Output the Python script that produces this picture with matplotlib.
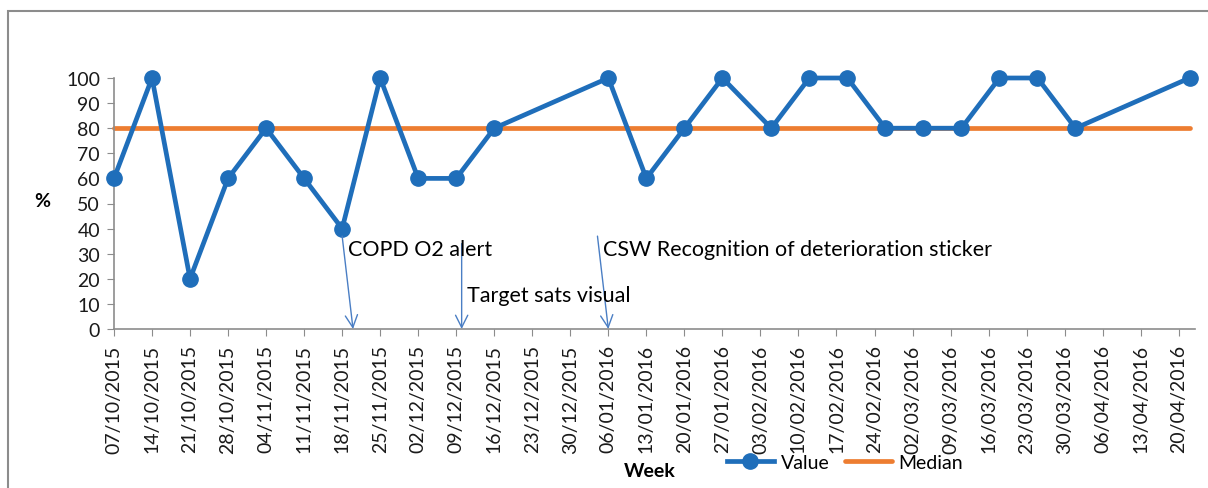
"""Weekly % chart with median line and intervention annotations."""

from datetime import datetime, timedelta

import matplotlib

matplotlib.use("Agg", force=True)

import matplotlib.dates as mdates
import matplotlib.pyplot as plt

plt.rcParams["font.family"] = ["Lato", "DejaVu Sans"]

# --- data -----------------------------------------------------------------
week_dates = [
    "07/10/2015", "14/10/2015", "21/10/2015", "28/10/2015", "04/11/2015",
    "11/11/2015", "18/11/2015", "25/11/2015", "02/12/2015", "09/12/2015",
    "16/12/2015", "06/01/2016", "13/01/2016", "20/01/2016", "27/01/2016",
    "05/02/2016", "12/02/2016", "19/02/2016", "26/02/2016", "04/03/2016",
    "11/03/2016", "18/03/2016", "25/03/2016", "01/04/2016", "22/04/2016",
]
values = [60, 100, 20, 60, 80, 60, 40, 100, 60, 60,
          80, 100, 60, 80, 100, 80, 100, 100, 80, 80,
          80, 100, 100, 80, 100]
median = [80] * len(values)

axis_start = "07/10/2015"
axis_end = "23/04/2016"
tick_step_days = 7

# (text, arrow tail date, tail value, arrow tip date, text date, text value)
annotations = [
    ("COPD O2 alert", "18/11/2015", 37, "20/11/2015", "19/11/2015", 32),
    ("Target sats visual", "10/12/2015", 34, "10/12/2015", "11/12/2015", 13.5),
    ("CSW Recognition of deterioration sticker", "04/01/2016", 37,
     "06/01/2016", "05/01/2016", 32),
]


def d(s):
    return datetime.strptime(s, "%d/%m/%Y")


BLUE = "#1F6EBA"
ORANGE = "#ED7D31"
ARROW = "#4A7EC4"
GRID = "#8C8C8C"

fig = plt.figure(figsize=(12.08, 4.89), dpi=100, facecolor="white")
ax = fig.add_axes([114 / 1208, 1 - 330 / 489, 1081 / 1208, 251 / 489])

x = [d(s) for s in week_dates]
ax.plot(x, values, color=BLUE, lw=3.4, marker="o", ms=11, label="Value",
        solid_joinstyle="round", zorder=3, clip_on=False)
ax.plot(x, median, color=ORANGE, lw=3.4, label="Median", zorder=2,
        solid_capstyle="round", clip_on=False)

# weekly ticks
start, end = d(axis_start), d(axis_end)
ticks = []
t = start
while t <= end:
    ticks.append(t)
    t += timedelta(days=tick_step_days)
ax.set_xticks(ticks)
ax.xaxis.set_major_formatter(mdates.DateFormatter("%d/%m/%Y"))
ax.set_xlim(start, end)
ax.set_ylim(0, 100)
ax.set_yticks(range(0, 101, 10))

ax.tick_params(axis="x", rotation=90, labelsize=14, length=5, color=GRID,
               pad=6, labelcolor="#1a1a1a")
ax.tick_params(axis="y", labelsize=14, length=5, color=GRID, pad=5,
               labelcolor="#1a1a1a")
for side in ("top", "right"):
    ax.spines[side].set_visible(False)
for side in ("left", "bottom"):
    ax.spines[side].set_color(GRID)
    ax.spines[side].set_linewidth(1.2)

ax.set_ylabel("%", fontsize=14, fontweight="bold", rotation=0)
ax.yaxis.set_label_coords(-0.066, 0.48)
ax.set_xlabel("Week", fontsize=14, fontweight="bold")
ax.xaxis.set_label_coords(0.496, -0.53)

ax.legend(loc="center left", bbox_to_anchor=(0.56, -0.53), ncol=2,
          frameon=False, fontsize=14, handlelength=2.4, handletextpad=0.35,
          columnspacing=0.8, borderaxespad=0)

for text, tail_d, tail_v, tip_d, text_d, text_v in annotations:
    ax.annotate("", xy=(d(tip_d), 0), xytext=(d(tail_d), tail_v),
                arrowprops=dict(arrowstyle="->", color=ARROW, lw=1,
                                mutation_scale=22, shrinkA=0, shrinkB=0),
                annotation_clip=False, zorder=4)
    ax.text(d(text_d), text_v, text, fontsize=15.5, va="center", ha="left",
            zorder=5)

# outer chart border
fig.patches.append(plt.Rectangle(
    (8 / 1208, -0.1), 1.2, 1 - 12 / 489 + 0.1,
    transform=fig.transFigure, facecolor="none", edgecolor="#8C8C8C",
    lw=1.5, clip_on=False))

fig.savefig("out.png", dpi=100, facecolor="white")
